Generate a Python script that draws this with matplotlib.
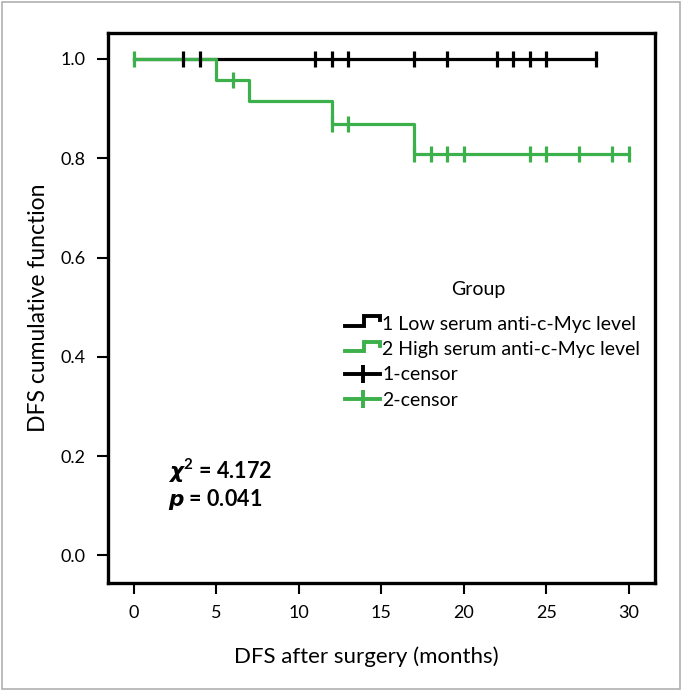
import numpy as np
import matplotlib
matplotlib.use('Agg')
import matplotlib.pyplot as plt
from matplotlib.lines import Line2D
from matplotlib.legend_handler import HandlerBase
from matplotlib.patches import Rectangle

plt.rcParams['font.family'] = ['Lato', 'DejaVu Sans']
plt.rcParams['mathtext.fontset'] = 'custom'
plt.rcParams['mathtext.it'] = 'DejaVu Sans:italic:bold'
plt.rcParams['mathtext.bf'] = 'Lato:bold'
plt.rcParams['mathtext.rm'] = 'Lato:bold'

# group 1: low serum anti-c-Myc level (no events)
g1_times = [0, 28]
g1_surv = [1.0, 1.0]
g1_censor = [3, 4, 11, 12, 13, 17, 19, 22, 23, 24, 25, 28]

# group 2: high serum anti-c-Myc level
g2_times = [0, 5, 7, 12, 17, 30]
g2_surv = [1.0, 0.958, 0.915, 0.869, 0.808, 0.808]
g2_censor = [0, 6, 12, 13, 17, 18, 19, 20, 24, 25, 27, 29, 30]

legend_title = 'Group'
labels = ['1 Low serum anti-c-Myc level', '2 High serum anti-c-Myc level',
          '1-censor', '2-censor']
xticks = [0, 5, 10, 15, 20, 25, 30]
yticks = [0.0, 0.2, 0.4, 0.6, 0.8, 1.0]

GREEN = '#3cb04a'
LW = 2.3


def surv_at(times, surv, t):
    idx = np.searchsorted(times, t, side='right') - 1
    return np.array(surv)[idx]


class HandlerStep(HandlerBase):
    def create_artists(self, legend, orig_handle, xdescent, ydescent,
                       width, height, fontsize, trans):
        x0 = -xdescent
        lo = -ydescent + 0.3 * height
        hi = -ydescent + 1.0 * height
        xs = [x0, x0 + 0.55 * width, x0 + 0.55 * width, x0 + width, x0 + width]
        ys = [lo, lo, hi, hi, hi - 0.3 * height]
        ln = Line2D(xs, ys, color=orig_handle.get_color(), lw=LW + 0.5,
                    solid_joinstyle='miter', transform=trans)
        return [ln]


fig = plt.figure(figsize=(6.82, 6.91), dpi=100)
ax = fig.add_axes([0.158, 0.156, 0.802, 0.796])

ax.step(g1_times, g1_surv, where='post', color='black', lw=LW)
ax.step(g2_times, g2_surv, where='post', color=GREEN, lw=LW)
ax.plot(g1_censor, surv_at(g1_times, g1_surv, g1_censor), ls='none',
        marker='|', ms=12, mew=LW, color='black')
ax.plot(g2_censor, surv_at(g2_times, g2_surv, g2_censor), ls='none',
        marker='|', ms=12, mew=LW, color=GREEN)

ax.set_xlim(-1.58, 31.58)
ax.set_ylim(-0.056, 1.052)
ax.set_xticks(xticks)
ax.set_xticklabels([str(t) for t in xticks])
ax.set_yticks(yticks)
ax.set_yticklabels(['%.1f' % t for t in yticks])
ax.tick_params(direction='out', length=8, width=1.5, labelsize=13,
               pad=8)
for s in ax.spines.values():
    s.set_linewidth(2.4)

ax.set_xlabel('DFS after surgery (months)', fontsize=16)
ax.set_ylabel('DFS cumulative function', fontsize=16.5)
ax.xaxis.set_label_coords(0.473, -0.114)
ax.yaxis.set_label_coords(-0.108, 0.5)

h1 = Line2D([], [], color='black')
h2 = Line2D([], [], color=GREEN)
h3 = Line2D([], [], color='black', lw=LW + 0.5, marker='|', ms=13, mew=LW + 0.5)
h4 = Line2D([], [], color=GREEN, lw=LW + 0.5, marker='|', ms=13, mew=LW + 0.5)
leg = ax.legend([h1, h2, h3, h4], labels, loc='upper left',
                bbox_to_anchor=(345 / 682, 1 - 316 / 691),
                bbox_transform=fig.transFigure, frameon=False, fontsize=14,
                handlelength=1.8, handletextpad=0.12,
                labelspacing=0.42, borderpad=0, borderaxespad=0,
                handler_map={h1: HandlerStep(), h2: HandlerStep()})
fig.text(478 / 682, 1 - 290 / 691, legend_title, fontsize=14,
         ha='center', va='center')

ax.text(168 / 682, 1 - 471 / 691, r'$\chi^{\mathbf{2}}$ = 4.172',
        transform=fig.transFigure, fontsize=15.5, fontweight='bold',
        va='center')
ax.text(168 / 682, 1 - 500 / 691, r'$p$ = 0.041',
        transform=fig.transFigure, fontsize=15.5, fontweight='bold',
        va='center')

fig.patches.append(Rectangle((0.003, 0.003), 0.994, 0.994,
                             transform=fig.transFigure, fill=False,
                             edgecolor='#b0b0b0', lw=1.2))

fig.savefig('out.png', dpi=100)
